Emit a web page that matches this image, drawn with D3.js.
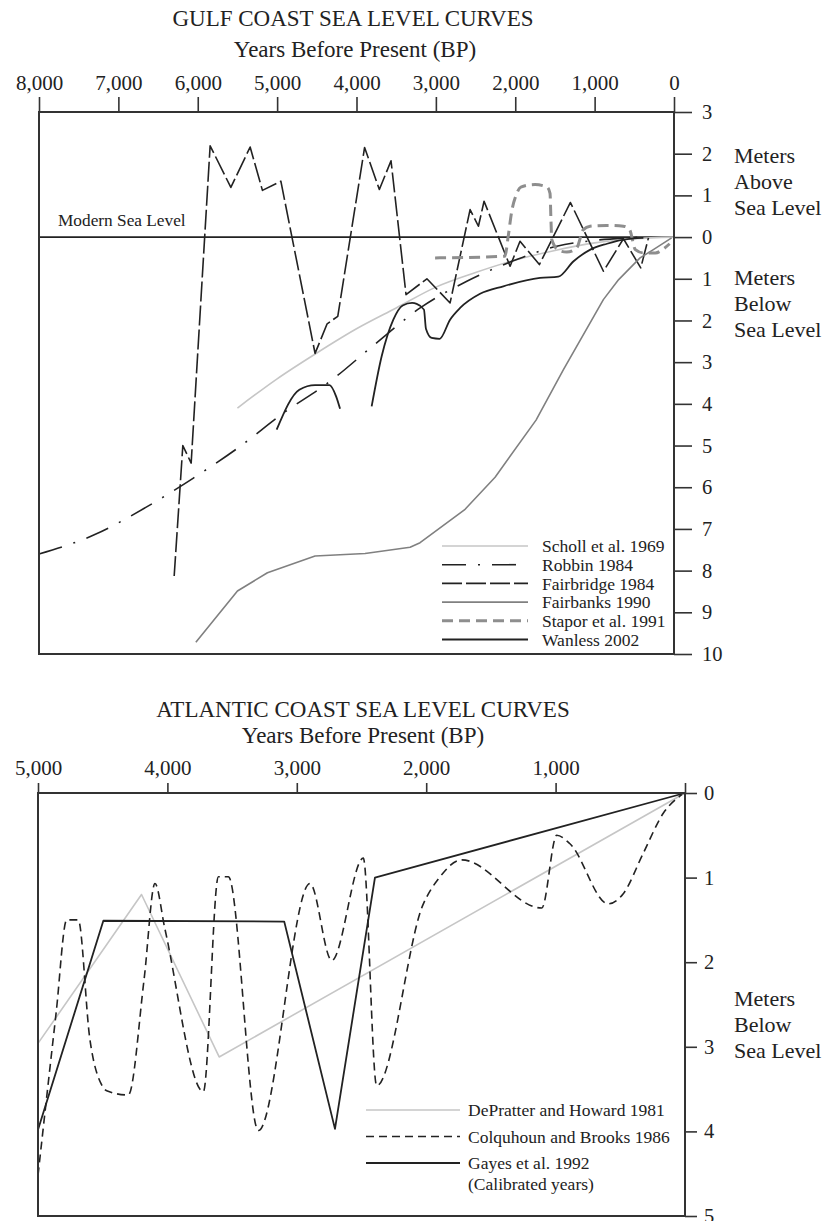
<!DOCTYPE html>
<html>
<head>
<meta charset="utf-8">
<script src="https://cdn.jsdelivr.net/npm/d3@7.9.0/dist/d3.min.js"></script>
<style>
  body { margin: 0; background: #fff; }
  svg { display: block; font-family: "Liberation Serif", "Times New Roman", serif; }
  text { fill: #222; }
</style>
</head>
<body>
<svg id="chart" width="827" height="1221"></svg>
<script>
// ---------- Gulf coast data: [years BP, meters relative to sea level] ----------
const gulfYearTicks = [8000, 7000, 6000, 5000, 4000, 3000, 2000, 1000, 0];
const gulfLevelTicks = [3, 2, 1, 0, -1, -2, -3, -4, -5, -6, -7, -8, -9, -10];

const scholl1969 = [[5500, -4.1], [5000, -3.4], [4500, -2.78], [4000, -2.2], [3500, -1.7],
  [3000, -1.2], [2500, -0.85], [2000, -0.55], [1500, -0.32], [1000, -0.14], [500, -0.04], [0, 0]];

const robbin1984 = [[8000, -7.6], [7290, -7.13], [6660, -6.49], [6055, -5.78], [5466, -5.02],
  [4920, -4.22], [4333, -3.46], [3787, -2.6], [3198, -1.7], [2610, -1.06], [2065, -0.6],
  [1478, -0.22], [1000, -0.08], [600, -0.02], [380, 0]];

const fairbridge1984 = [[6297, -8.13], [6188, -5.0], [6083, -5.42], [5844, 2.19], [5583, 1.19],
  [5340, 2.16], [5185, 1.12], [4953, 1.34], [4522, -2.79], [4370, -2.08], [4236, -1.9],
  [3898, 2.15], [3712, 1.14], [3565, 1.83], [3376, -1.38], [3113, -1.0], [2821, -1.58],
  [2569, 0.66], [2464, 0.26], [2393, 0.86], [2065, -0.7], [1940, -0.1], [1696, -0.66],
  [1305, 0.83], [889, -0.82], [637, -0.04], [419, -0.74], [322, -0.02]];

const fairbanks1990 = [[6024, -9.72], [5500, -8.49], [5122, -8.05], [4522, -7.65], [3892, -7.59],
  [3325, -7.44], [3199, -7.33], [2632, -6.53], [2254, -5.76], [1738, -4.39], [1393, -3.18],
  [890, -1.5], [697, -1.02], [428, -0.5], [260, -0.3], [30, -0.02]];

const stapor1991 = [[3010, -0.5], [2130, -0.46], [2090, 0.0], [2044, 0.62], [1990, 1.0],
  [1930, 1.2], [1751, 1.26], [1600, 1.2], [1562, 1.05], [1550, 0.4], [1540, -0.06],
  [1450, -0.32], [1352, -0.36], [1226, -0.26], [1142, 0.18], [1058, 0.26], [848, 0.28],
  [637, 0.26], [560, 0.18], [487, -0.3], [382, -0.38], [235, -0.38], [130, -0.28], [55, -0.16]];

const wanless2002a = [[5006, -4.62], [4720, -3.66], [4522, -3.55], [4340, -3.55], [4257, -3.82], [4207, -4.12]];
const wanless2002b = [[3809, -4.06], [3683, -2.86], [3536, -1.98], [3418, -1.64], [3300, -1.58],
  [3242, -1.6], [3150, -1.74], [3125, -2.2], [3053, -2.42], [2953, -2.44], [2821, -1.98],
  [2695, -1.7], [2443, -1.36], [2150, -1.18], [1688, -0.98], [1457, -0.95], [1265, -0.58],
  [1054, -0.3], [844, -0.16], [637, -0.06], [386, -0.02]];

// ---------- Atlantic coast data: [years BP, meters below sea level] ----------
const atlYearTicks = [5000, 4000, 3000, 2000, 1000, 0];
const atlDepthTicks = [0, 1, 2, 3, 4, 5];

const depratter1981 = [[5000, 2.96], [4200, 1.2], [3600, 3.12], [0, 0]];

const colquhoun1986 = [[5000, 4.52], [4860, 2.6], [4778, 1.5], [4689, 1.5], [4600, 2.9],
  [4508, 3.45], [4469, 3.52], [4302, 3.57], [4180, 2.2], [4096, 1.07], [4020, 1.6], [3722, 3.53],
  [3606, 0.99], [3529, 0.99], [3297, 3.99], [2898, 1.07], [2730, 1.98], [2486, 0.77],
  [2383, 3.46], [2022, 1.31], [1893, 0.99], [1726, 0.79], [1107, 1.36], [991, 0.5],
  [889, 0.6], [593, 1.31], [477, 1.19], [322, 0.71], [168, 0.24], [25, 0.02]];

const gayes1992 = [[5000, 3.98], [4495, 1.51], [3097, 1.52], [2705, 3.97], [2396, 1.0], [0, 0]];

const svg = d3.select('#chart');
svg.append('rect').attr('width', 827).attr('height', 1221).attr('fill', '#fff');

function styleAxis(g, size) {
  g.attr('font-family', '"Liberation Serif", "Times New Roman", serif').attr('font-size', size);
  g.select('.domain').remove();
  g.selectAll('.tick line').attr('stroke', '#333').attr('stroke-width', 1.6);
  g.selectAll('.tick text').attr('fill', '#222');
}

function drawSeries(x, y, s) {
  const line = d3.line().x(d => x(d[0])).y(d => y(d[1])).curve(s.curve || d3.curveLinear);
  s.segments.forEach(seg => {
    svg.append('path')
      .attr('d', line(seg))
      .attr('fill', 'none')
      .attr('stroke', s.stroke)
      .attr('stroke-width', s.width)
      .attr('stroke-dasharray', s.dash)
      .attr('stroke-linejoin', 'round');
  });
}

const sideLabel = (lines, x, y0) => {
  lines.forEach((t, i) => svg.append('text').attr('x', x).attr('y', y0 + i * 26)
    .attr('dy', '0.35em').attr('font-size', 22).text(t));
};

// =================== GULF COAST ===================
const gx = d3.scaleLinear().domain([8000, 0]).range([39, 674]);
const gy = d3.scaleLinear().domain([3, -10]).range([112, 654]);

svg.append('text').attr('x', 353).attr('y', 26).attr('text-anchor', 'middle')
  .attr('font-size', 23).text('GULF COAST SEA LEVEL CURVES');
svg.append('text').attr('x', 355).attr('y', 57).attr('text-anchor', 'middle')
  .attr('font-size', 23).text('Years Before Present (BP)');

svg.append('g').attr('transform', `translate(0,${gy(3)})`)
  .call(d3.axisTop(gx).tickValues(gulfYearTicks).tickFormat(d3.format(',')).tickSize(15).tickPadding(7))
  .call(g => styleAxis(g, 21));

svg.append('g').attr('transform', `translate(${gx(0)},0)`)
  .call(d3.axisRight(gy).tickValues(gulfLevelTicks).tickFormat(d => Math.abs(d)).tickSize(18).tickPadding(10))
  .call(g => styleAxis(g, 20.5));

// modern sea level
svg.append('line').attr('x1', gx(8000)).attr('x2', gx(0)).attr('y1', gy(0)).attr('y2', gy(0))
  .attr('stroke', '#222').attr('stroke-width', 1.6);
svg.append('text').attr('x', 58).attr('y', gy(0) - 11).attr('font-size', 17.3).text('Modern Sea Level');

const gulfSeries = [
  { name: 'Scholl et al. 1969', segments: [scholl1969], stroke: '#c6c6c6', width: 1.6, dash: null, curve: d3.curveMonotoneX },
  { name: 'Robbin 1984', segments: [robbin1984], stroke: '#222', width: 1.6, dash: '24,12,2,12', curve: d3.curveMonotoneX },
  { name: 'Fairbridge 1984', segments: [fairbridge1984], stroke: '#222', width: 1.6, dash: '20,4' },
  { name: 'Fairbanks 1990', segments: [fairbanks1990], stroke: '#808080', width: 1.6, dash: null },
  { name: 'Stapor et al. 1991', segments: [stapor1991], stroke: '#8e8e8e', width: 3, dash: '11,6', curve: d3.curveMonotoneX },
  { name: 'Wanless 2002', segments: [wanless2002a, wanless2002b], stroke: '#222', width: 1.8, dash: null, curve: d3.curveMonotoneX }
];
gulfSeries.forEach(s => drawSeries(gx, gy, s));

// legend
gulfSeries.forEach((s, i) => {
  const ly = 546 + i * 18.7;
  svg.append('line').attr('x1', 442).attr('x2', 528).attr('y1', ly).attr('y2', ly)
    .attr('stroke', s.stroke).attr('stroke-width', s.width).attr('stroke-dasharray', s.dash);
  svg.append('text').attr('x', 542).attr('y', ly).attr('dy', '0.35em').attr('font-size', 17.5).text(s.name);
});

// frame
svg.append('rect').attr('x', gx(8000)).attr('y', gy(3))
  .attr('width', gx(0) - gx(8000)).attr('height', gy(-10) - gy(3))
  .attr('fill', 'none').attr('stroke', '#333').attr('stroke-width', 2);

sideLabel(['Meters', 'Above', 'Sea Level'], 734, 155);
sideLabel(['Meters', 'Below', 'Sea Level'], 734, 277);

// =================== ATLANTIC COAST ===================
const ax = d3.scaleLinear().domain([5000, 0]).range([38, 685]);
const ay = d3.scaleLinear().domain([0, 5]).range([793, 1216]);

svg.append('text').attr('x', 363).attr('y', 717).attr('text-anchor', 'middle')
  .attr('font-size', 23).text('ATLANTIC COAST SEA LEVEL CURVES');
svg.append('text').attr('x', 363).attr('y', 743).attr('text-anchor', 'middle')
  .attr('font-size', 23).text('Years Before Present (BP)');

svg.append('g').attr('transform', `translate(0,${ay(0)})`)
  .call(d3.axisTop(ax).tickValues(atlYearTicks).tickFormat(d => d === 0 ? '' : d3.format(',')(d)).tickSize(10).tickPadding(8))
  .call(g => styleAxis(g, 21));

svg.append('g').attr('transform', `translate(${ax(0)},0)`)
  .call(d3.axisRight(ay).tickValues(atlDepthTicks).tickFormat(d3.format('d')).tickSize(12).tickPadding(7))
  .call(g => styleAxis(g, 20.5));

const atlSeries = [
  { name: 'DePratter and Howard 1981', segments: [depratter1981], stroke: '#c6c6c6', width: 1.6, dash: null },
  { name: 'Colquhoun and Brooks 1986', segments: [colquhoun1986], stroke: '#222', width: 1.6, dash: '8,5', curve: d3.curveMonotoneX },
  { name: 'Gayes et al. 1992', segments: [gayes1992], stroke: '#222', width: 1.8, dash: null }
];
atlSeries.forEach(s => drawSeries(ax, ay, s));

atlSeries.forEach((s, i) => {
  const ly = 1110 + i * 26.5;
  svg.append('line').attr('x1', 366).attr('x2', 460).attr('y1', ly).attr('y2', ly)
    .attr('stroke', s.stroke).attr('stroke-width', s.width).attr('stroke-dasharray', s.dash);
  svg.append('text').attr('x', 468).attr('y', ly).attr('dy', '0.35em').attr('font-size', 17.5).text(s.name);
});
svg.append('text').attr('x', 468).attr('y', 1110 + 2 * 26.5 + 21).attr('dy', '0.35em')
  .attr('font-size', 17.5).text('(Calibrated years)');

svg.append('rect').attr('x', ax(5000)).attr('y', ay(0))
  .attr('width', ax(0) - ax(5000)).attr('height', ay(5) - ay(0))
  .attr('fill', 'none').attr('stroke', '#333').attr('stroke-width', 2);

sideLabel(['Meters', 'Below', 'Sea Level'], 734, 998);
</script>
</body>
</html>
